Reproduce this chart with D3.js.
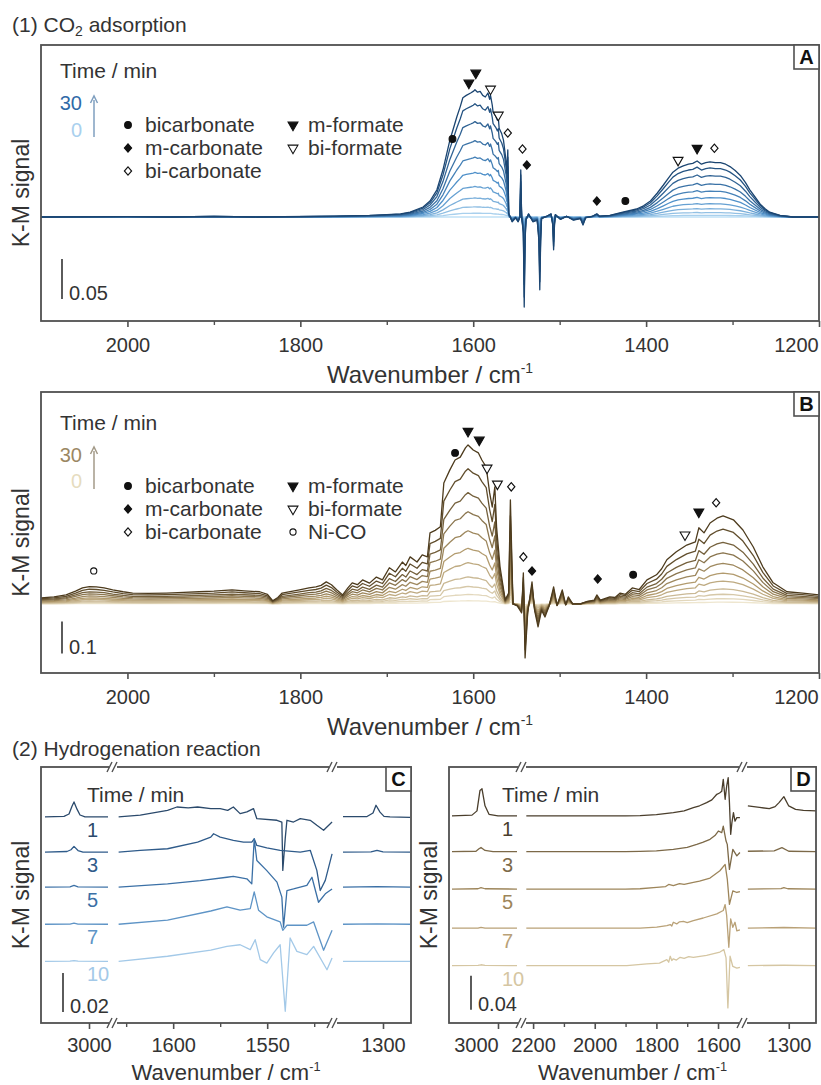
<!DOCTYPE html>
<html>
<head>
<meta charset="utf-8">
<script src="https://cdn.jsdelivr.net/npm/d3@7"></script>
<style>
  body { margin: 0; background: #fff; }
  svg { display: block; }
  text { font-family: "Liberation Sans", Arial, Helvetica, sans-serif; fill: #333; }
</style>
</head>
<body>
<svg id="fig" width="821" height="1085"></svg>
<script>
// ======================= data =======================
// (1) CO2 adsorption, spectra recorded every 3 min
const adsorptionTimes = [0, 3, 6, 9, 12, 15, 18, 21, 24, 27, 30];
const ticksAB = [2000, 1800, 1600, 1400, 1200];
const minorTicksAB = [1900, 1700, 1500, 1300];

// Panel A: spectrum after 30 min, [wavenumber / cm-1, K-M signal]
const spectrumA30 = [
  [2100, 0], [2000, 0.0005], [1950, 0], [1900, 0.0008], [1850, 0], [1760, 0.001], [1720, 0.002],
  [1700, 0.003], [1684, 0.004], [1673, 0.006], [1658, 0.0125], [1650, 0.02], [1642, 0.034],
  [1635, 0.059], [1627, 0.096], [1622, 0.114], [1619, 0.125], [1615, 0.138], [1612, 0.149],
  [1608, 0.152], [1603, 0.155], [1600, 0.157], [1598, 0.159], [1595, 0.156], [1592, 0.157],
  [1589, 0.152], [1586, 0.15], [1583, 0.155], [1581, 0.147], [1580, 0.152], [1578, 0.14],
  [1577, 0.131], [1574, 0.126], [1572, 0.121], [1571, 0.124], [1570, 0.111], [1567, 0.104],
  [1565, 0.096], [1562, 0.07], [1561, 0.055], [1560, 0.084], [1559, 0.005], [1555, -0.006],
  [1551, -0.001], [1548, -0.006], [1546, 0.0], [1545, 0.059], [1544, 0.0], [1542, -0.02],
  [1541, -0.1125], [1540, -0.03], [1539, -0.004], [1536, 0.004], [1531, -0.006], [1526, -0.004],
  [1524, -0.03], [1523, -0.091], [1522, -0.03], [1521, -0.002], [1515, 0.001], [1510, 0.004],
  [1508, -0.01], [1507, -0.041], [1506, -0.01], [1505, 0.003], [1499, -0.003], [1492, 0.001],
  [1484, -0.004], [1476, -0.002], [1473, -0.01], [1470, -0.001], [1462, 0.001], [1457, 0.004],
  [1454, 0.001], [1442, 0.002], [1427, 0.006], [1411, 0.01], [1403, 0.014], [1395, 0.02],
  [1387, 0.03], [1380, 0.04], [1374, 0.049], [1369, 0.056], [1363, 0.061], [1357, 0.064],
  [1351, 0.066], [1346, 0.067], [1341, 0.07], [1336, 0.066], [1331, 0.068], [1326, 0.069],
  [1320, 0.068], [1314, 0.068], [1308, 0.066], [1303, 0.063], [1297, 0.058], [1291, 0.052],
  [1285, 0.043], [1280, 0.034], [1274, 0.025], [1268, 0.016], [1262, 0.01], [1257, 0.006],
  [1245, 0.002], [1230, 0.0], [1200, 0]
];
// fraction of the 30-min intensity reached at each time
const growthA = [0, 0.03, 0.08, 0.15, 0.24, 0.35, 0.47, 0.60, 0.75, 0.89, 1.0];

// Panel B: spectrum after 30 min
const spectrumB30 = [
  [2100, 0.019], [2085, 0.022], [2071, 0.028], [2060, 0.04], [2052, 0.05], [2044, 0.054],
  [2036, 0.053], [2027, 0.05], [2017, 0.044], [2005, 0.038], [1994, 0.034], [1975, 0.033],
  [1955, 0.034], [1935, 0.036], [1917, 0.038], [1900, 0.04], [1879, 0.044], [1865, 0.041],
  [1847, 0.038], [1838, 0.03], [1832, 0.01], [1826, 0.02], [1821, 0.034], [1801, 0.044],
  [1790, 0.05], [1782, 0.053], [1776, 0.058], [1770, 0.069], [1764, 0.06], [1758, 0.044],
  [1751, 0.028], [1745, 0.05], [1740, 0.066], [1734, 0.06], [1728, 0.075], [1720, 0.065],
  [1712, 0.084], [1705, 0.075], [1697, 0.113], [1690, 0.1], [1682, 0.131], [1678, 0.12],
  [1673, 0.147], [1665, 0.131], [1659, 0.153], [1653, 0.147], [1650, 0.222], [1644, 0.23],
  [1638, 0.241], [1634, 0.378], [1627, 0.419], [1621, 0.45], [1615, 0.459], [1609, 0.488],
  [1606, 0.497], [1600, 0.481], [1594, 0.472], [1590, 0.45], [1585, 0.428], [1581, 0.347],
  [1578, 0.303], [1575, 0.366], [1573, 0.241], [1569, 0.116], [1563, 0.013], [1559, 0.034],
  [1557, 0.325], [1554, 0], [1549, -0.006], [1544, -0.028], [1542, 0.097], [1540, -0.169],
  [1537, -0.028], [1532, 0.069], [1529, -0.02], [1525, -0.072], [1521, -0.02], [1517, -0.041],
  [1512, -0.005], [1507, 0.053], [1503, -0.005], [1497, 0.044], [1493, -0.003], [1490, 0.022],
  [1485, 0.0], [1476, 0], [1468, 0.008], [1460, 0.012], [1457, 0.028], [1453, 0.012],
  [1442, 0.022], [1436, 0.02], [1430, 0.034], [1424, 0.03], [1416, 0.05], [1408, 0.045],
  [1399, 0.075], [1388, 0.091], [1382, 0.11], [1376, 0.138], [1365, 0.163], [1353, 0.184],
  [1343, 0.194], [1339, 0.238], [1333, 0.222], [1326, 0.253], [1318, 0.268], [1311, 0.275],
  [1299, 0.263], [1288, 0.231], [1276, 0.178], [1265, 0.116], [1253, 0.066], [1237, 0.038],
  [1219, 0.034], [1200, 0.028]
];
const growthB = [0.02, 0.06, 0.11, 0.17, 0.26, 0.35, 0.46, 0.58, 0.70, 0.85, 1.0];

// band assignments: [species, wavenumber, K-M level of the marker]
const bandsA = [
  ["bicarbonate", 1624, 0.0975], ["m-formate", 1605, 0.1675], ["m-formate", 1597, 0.18],
  ["bi-formate", 1580, 0.16], ["bi-formate", 1571, 0.1275], ["bi-carbonate", 1560, 0.105],
  ["bi-carbonate", 1543, 0.085], ["m-carbonate", 1538, 0.065], ["m-carbonate", 1457, 0.02],
  ["bicarbonate", 1424, 0.02], ["bi-formate", 1363, 0.071], ["m-formate", 1341, 0.086],
  ["bi-carbonate", 1321, 0.086]
];
const bandsB = [
  ["Ni-CO", 2039, 0.103], ["bicarbonate", 1621, 0.472], ["m-formate", 1606, 0.54],
  ["m-formate", 1593, 0.5125], ["bi-formate", 1584, 0.425], ["bi-formate", 1572, 0.375],
  ["bi-carbonate", 1556, 0.366], ["bi-carbonate", 1542, 0.147], ["m-carbonate", 1532, 0.103],
  ["m-carbonate", 1456, 0.078], ["bicarbonate", 1415, 0.091], ["bi-formate", 1355, 0.216],
  ["m-formate", 1339, 0.2875], ["bi-carbonate", 1319, 0.316]
];
const legendLeftCol = ["bicarbonate", "m-carbonate", "bi-carbonate"];
const legendRightA = ["m-formate", "bi-formate"];
const legendRightB = ["m-formate", "bi-formate", "Ni-CO"];

// (2) Hydrogenation reaction
const hydroTimes = [1, 3, 5, 7, 10];
const offsetsC = [0, -0.018, -0.036, -0.055, -0.074];
const offsetsD = [0, -0.042, -0.086, -0.132, -0.176];
const ticksC = { high: [3000], mid: [1600, 1550], low: [1300] };
const minorTicksC = [1625, 1575, 1525];
const ticksD = { high: [3000], mid: [2200, 2000, 1800, 1600], low: [1300] };
const minorTicksD = [2100, 1900, 1700];

// Panel C, one array per time, for each wavenumber window
const chBandC = [
  [[3044, 0], [3025, 0.0003], [3020, 0.0015], [3017, 0.0055], [3015, 0.0077], [3012, 0.004], [3009, 0.001], [3004, 0], [2981, 0]],
  [[3044, 0], [3022, 0.0003], [3018, 0.0012], [3015, 0.0029], [3011, 0.0008], [3006, 0], [2981, 0]],
  [[3044, 0], [3019, 0.0002], [3015, 0.0009], [3011, 0.0002], [2981, 0]],
  [[3044, 0], [3019, 0.0001], [3015, 0.0006], [3011, 0.0001], [2981, 0]],
  [[3044, 0], [3019, 0.0001], [3015, 0.0004], [3011, 0.0001], [2981, 0]]
];
const carbonylC = [
  [[1629, 0], [1617.5, 0.0009], [1603, 0.0034], [1598, 0.0051], [1592, 0.0047], [1587, 0.0051],
   [1580, 0.0043], [1575, 0.0043], [1571, 0.0034], [1568, 0.0051], [1564.4, 0.0017], [1560.8, 0.0026],
   [1557.3, 0.0043], [1555.5, -0.0009], [1544.8, -0.0017], [1542.2, -0.0026], [1541.7, -0.0274],
   [1540.4, -0.011], [1539.5, -0.0017], [1536, -0.0026], [1532.4, -0.0009], [1527.1, -0.0017],
   [1523.6, -0.0043], [1520, -0.0068], [1515.5, -0.0026]],
  [[1629, 0], [1617.5, 0.0009], [1603, 0.0017], [1587, 0.0051], [1580, 0.0077], [1578.5, 0.0094],
   [1575, 0.0077], [1568, 0.006], [1562.6, 0.0051], [1558.2, 0.0051], [1556.9, 0.0068], [1555.5, 0.0034],
   [1550.2, 0.0022], [1543.1, 0.0009], [1532.4, 0], [1527.1, 0.0009], [1523.6, -0.0094],
   [1521.8, -0.0197], [1519.1, -0.0145], [1515.5, -0.0009]],
  [[1629, 0], [1603, 0.0017], [1585.6, 0.0034], [1571.4, 0.0051], [1568, 0.0055], [1560.8, 0.0043],
   [1558.2, 0.0017], [1556.9, 0.0248], [1555.5, 0.0137], [1550.2, 0.0085], [1544.8, 0.0026],
   [1542.2, -0.0051], [1541.3, -0.0205], [1539.5, -0.0017], [1536, -0.0009], [1528.9, 0.0009],
   [1526.2, 0.0051], [1522.7, -0.0077], [1519.1, -0.0034], [1515.5, -0.0009]],
  [[1629, 0], [1603, 0.0021], [1580, 0.0068], [1571.4, 0.0089], [1564.4, 0.0072], [1559, 0.008],
   [1556.9, 0.0166], [1554.6, 0.0072], [1550.2, 0.0038], [1543.1, 0.0012], [1541.7, -0.0031],
   [1539.5, -0.0005], [1528.9, -0.0005], [1525.3, 0.0012], [1520, -0.0133], [1515.5, -0.0031]],
  [[1629, 0], [1603, 0.0026], [1580, 0.0058], [1571.4, 0.0077], [1564.4, 0.0085], [1559, 0.006],
   [1556.4, 0.0111], [1553.7, 0.0009], [1550.2, -0.0009], [1546.6, 0.0043], [1543.1, 0.0085],
   [1540.4, -0.0256], [1537.8, 0.012], [1534.2, 0.0051], [1528.9, 0.0034], [1525.3, 0.0077],
   [1518.2, -0.0043], [1515.5, 0.0017]]
];
const lowBandC = [
  [[1340, 0.0002], [1316, 0.0002], [1310, 0.002], [1307, 0.006], [1303, 0.0025], [1299, 0.0003], [1293, 0], [1273, -0.0002]],
  [[1340, 0], [1312, 0.0001], [1306, 0.0009], [1300, 0.0001], [1273, 0]],
  [[1340, 0], [1306, 0.0003], [1273, 0]],
  [[1340, 0], [1306, 0.0002], [1273, 0]],
  [[1340, 0], [1273, 0]]
];

// Panel D
const chBandD = [
  [[3046, 0], [3026, 0.001], [3021, 0.006], [3018, 0.03], [3016, 0.032], [3013, 0.012], [3009, 0.002], [3000, 0], [2981, 0]],
  [[3046, 0], [3022, 0.0005], [3019, 0.0035], [3017, 0.005], [3013, 0.0015], [3005, 0], [2981, 0]],
  [[3046, 0], [3020, 0.0004], [3017, 0.0018], [3013, 0.0004], [2981, 0]],
  [[3046, 0], [3020, 0.0002], [3017, 0.001], [3013, 0.0002], [2981, 0]],
  [[3046, 0], [3020, 0.0002], [3017, 0.001], [3013, 0.0002], [2981, 0]]
];
const carbonylD = [
  [[2222, 0], [1900, 0], [1853, 0.0005], [1800, 0.0015], [1745, 0.004], [1710, 0.006], [1680, 0.0098],
   [1660, 0.012], [1637, 0.0157], [1620, 0.019], [1604, 0.0255], [1595, 0.027], [1588, 0.029],
   [1583, 0.043], [1577, 0.0196], [1572, 0.035], [1567, 0.045], [1563, 0.0157], [1559, -0.0216],
   [1555, -0.008], [1550, 0.004], [1545, -0.006], [1539, -0.002], [1529, -0.002]],
  [[2222, 0], [1900, 0], [1853, 0.0003], [1800, 0.001], [1745, 0.0027], [1700, 0.005], [1669, 0.0086],
   [1650, 0.011], [1626, 0.0145], [1610, 0.019], [1599, 0.0243], [1588, 0.0224], [1583, 0.03],
   [1574, 0.0125], [1570, 0.0086], [1563, -0.0208], [1552, 0.0027], [1539, -0.005], [1529, -0.001]],
  [[2222, 0], [1900, 0], [1853, 0.0004], [1799, 0.002], [1770, 0.003], [1760, 0.0055], [1745, 0.004],
   [1725, 0.0065], [1710, 0.0055], [1680, 0.0078], [1660, 0.0095], [1626, 0.013], [1594, 0.0216],
   [1577, 0.029], [1570, 0.0118], [1563, -0.018], [1552, -0.002], [1539, -0.004], [1529, -0.003]],
  [[2222, 0], [1900, 0], [1853, 0], [1799, 0.0012], [1766, 0.003], [1755, 0.0043], [1750, 0.0025],
   [1745, 0.007], [1734, 0.005], [1725, 0.0075], [1712, 0.008], [1700, 0.0065], [1680, 0.009],
   [1648, 0.012], [1604, 0.0169], [1583, 0.0208], [1577, 0.0278], [1572, 0.015], [1565, -0.0224],
   [1559, 0.011], [1552, 0.001], [1545, 0.007], [1539, -0.003], [1529, -0.002]],
  [[2222, 0], [1896, 0], [1831, 0.002], [1790, 0.003], [1766, 0.007], [1760, 0.004], [1755, 0.011],
   [1750, 0.006], [1745, 0.008], [1735, 0.0065], [1723, 0.0098], [1710, 0.0085], [1695, 0.0105],
   [1680, 0.0098], [1637, 0.012], [1594, 0.016], [1581, 0.0188], [1574, 0.009], [1568, -0.0498],
   [1561, 0.011], [1552, -0.001], [1539, -0.003], [1529, -0.002]]
];
const lowBandD = [
  [[1342, 0.0118], [1330, 0.01], [1320, 0.0086], [1314, 0.011], [1310, 0.0157], [1305, 0.0227], [1300, 0.0118], [1293, 0.0078], [1285, 0.0065], [1272, 0.006]],
  [[1342, 0.0005], [1315, 0.001], [1307, 0.0047], [1300, 0.0005], [1272, 0]],
  [[1342, 0], [1308, 0.0005], [1305, 0.0018], [1301, 0.0004], [1272, 0]],
  [[1342, 0], [1305, 0.0008], [1272, 0]],
  [[1342, 0], [1305, 0.0004], [1272, 0]]
];

// ======================= drawing =======================
const svg = d3.select("#fig");
const defs = svg.append("defs");
const FRAME = "#505050";

function clip(id, x0, y0, x1, y1) {
  defs.append("clipPath").attr("id", id)
    .append("rect").attr("x", x0).attr("y", y0).attr("width", x1 - x0).attr("height", y1 - y0);
  return "url(#" + id + ")";
}

function frame(x0, y0, x1, y1) {
  svg.append("rect").attr("x", x0).attr("y", y0).attr("width", x1 - x0).attr("height", y1 - y0)
    .attr("fill", "none").attr("stroke", FRAME).attr("stroke-width", 1.8);
}

function panelTag(letter, x1, y0) {
  const g = svg.append("g");
  g.append("rect").attr("x", x1 - 25).attr("y", y0).attr("width", 25).attr("height", 24)
    .attr("fill", "#fff").attr("stroke", FRAME).attr("stroke-width", 1.6);
  g.append("text").attr("x", x1 - 12.5).attr("y", y0 + 19).attr("text-anchor", "middle")
    .attr("font-size", 20).attr("font-weight", "bold").style("fill", "#111").text(letter);
}

function axisTitleX(cx, y, size) {
  const t = svg.append("text").attr("x", cx).attr("y", y).attr("text-anchor", "middle").attr("font-size", size);
  t.append("tspan").text("Wavenumber / cm");
  t.append("tspan").attr("font-size", size * 0.58).attr("dy", -size * 0.42).text("-1");
}

function axisTitleY(x, cy) {
  svg.append("text").attr("transform", `translate(${x},${cy}) rotate(-90)`)
    .attr("text-anchor", "middle").attr("font-size", 23).text("K-M signal");
}

function bottomTicks(scale, y, major, minor, labelShift, pad) {
  const g = svg.append("g").attr("transform", `translate(0,${y})`);
  g.call(d3.axisBottom(scale).tickValues(major).tickSize(6).tickPadding(pad).tickFormat(d3.format("d")));
  g.select(".domain").remove();
  g.selectAll(".tick line").attr("stroke", FRAME).attr("stroke-width", 1.6);
  g.selectAll(".tick text").attr("font-size", 20).style("fill", "#333")
    .attr("font-family", '"Liberation Sans", Arial, sans-serif');
  if (labelShift) g.selectAll(".tick text").attr("dx", d => labelShift[d] || 0);
  if (minor && minor.length) {
    const m = svg.append("g").attr("transform", `translate(0,${y})`);
    m.call(d3.axisBottom(scale).tickValues(minor).tickSize(4).tickFormat(""));
    m.select(".domain").remove();
    m.selectAll(".tick line").attr("stroke", FRAME).attr("stroke-width", 1.4);
  }
}

function scaleBar(x, yScale, v0, len, label) {
  svg.append("line").attr("x1", x).attr("x2", x).attr("y1", yScale(v0)).attr("y2", yScale(v0 + len))
    .attr("stroke", "#333").attr("stroke-width", 1.6);
  svg.append("text").attr("x", x + 7).attr("y", yScale(v0) + 1).attr("font-size", 20).text(label);
}

function speciesSymbol(kind) {
  const filled = ["bicarbonate", "m-carbonate", "m-formate"].includes(kind);
  let type = d3.symbolCircle, size = 36, rot = 0, sy = 1;
  if (kind === "m-carbonate" || kind === "bi-carbonate") { type = d3.symbolSquare; size = 26; rot = 45; sy = 1.15; }
  if (kind.endsWith("formate")) { type = d3.symbolTriangle; size = 42; rot = 180; }
  if (kind === "Ni-CO") { size = 30; }
  return { path: d3.symbol().type(type).size(size)(), filled, rot, sy };
}

function drawSymbol(g, kind, x, y) {
  const s = speciesSymbol(kind);
  g.append("path").attr("d", s.path)
    .attr("transform", `translate(${x},${y}) scale(1,${s.sy}) rotate(${s.rot})`)
    .attr("fill", s.filled ? "#111" : "#fff").attr("stroke", "#111").attr("stroke-width", 1.1);
}

function timeArrow(x, yTop, yBottom, hiColor, loColor, hiY, loY, color, titleY) {
  svg.append("text").attr("x", 60).attr("y", titleY).attr("font-size", 21).text("Time / min");
  svg.append("text").attr("x", 82).attr("y", hiY).attr("text-anchor", "end").attr("font-size", 20)
    .style("fill", hiColor).text(adsorptionTimes[adsorptionTimes.length - 1]);
  svg.append("text").attr("x", 82).attr("y", loY).attr("text-anchor", "end").attr("font-size", 20)
    .style("fill", loColor).text(adsorptionTimes[0]);
  svg.append("line").attr("x1", x).attr("x2", x).attr("y1", yBottom).attr("y2", yTop + 3)
    .attr("stroke", color).attr("stroke-width", 1.5);
  svg.append("path").attr("d", `M${x - 3.5},${yTop + 6}L${x},${yTop - 1}L${x + 3.5},${yTop + 6}`)
    .attr("fill", "none").attr("stroke", color).attr("stroke-width", 1.5);
}

function legend(rowY, rightItems) {
  const g = svg.append("g");
  legendLeftCol.forEach((k, i) => {
    drawSymbol(g, k, 128, rowY + i * 23);
    g.append("text").attr("x", 145).attr("y", rowY + i * 23 + 7).attr("font-size", 21).text(k);
  });
  rightItems.forEach((k, i) => {
    drawSymbol(g, k, 293, rowY + i * 23);
    g.append("text").attr("x", 308).attr("y", rowY + i * 23 + 7).attr("font-size", 21).text(k);
  });
}

// ---------- panels A and B ----------
function adsorptionPanel(cfg) {
  const x = d3.scaleLinear().domain([2100, 1200]).range([41, 819]);
  const y = d3.scaleLinear().domain(cfg.yDomain).range([cfg.y1, cfg.y0]);
  const color = d3.scaleLinear().domain([0, 15, 30]).range(cfg.colors);
  const plot = svg.append("g").attr("clip-path", clip("clip" + cfg.tag, 41, cfg.y0, 819, cfg.y1));

  adsorptionTimes.forEach((t, i) => {
    const f = cfg.growth[i];
    const line = d3.line().x(d => x(d[0])).y(d => y(d[1] * f));
    plot.append("path").datum(cfg.spectrum).attr("d", line)
      .attr("fill", "none").attr("stroke", color(t)).attr("stroke-width", 1.3).attr("stroke-linejoin", "round");
  });

  const marks = svg.append("g");
  cfg.bands.forEach(b => drawSymbol(marks, b[0], x(b[1]), y(b[2])));

  frame(41, cfg.y0, 819, cfg.y1);
  bottomTicks(x, cfg.y1, ticksAB, minorTicksAB, { 1200: -23 }, 11);
  panelTag(cfg.tag, 819, cfg.y0);
  axisTitleX(430, cfg.y1 + 62, 24);
  axisTitleY(29, (cfg.y0 + cfg.y1) / 2 + 10);
  scaleBar(62, y, cfg.bar[0], cfg.bar[1], cfg.bar[2]);
  return { x, y };
}

svg.append("text").attr("x", 12).attr("y", 32).attr("font-size", 21)
  .call(t => {
    t.append("tspan").text("(1) CO");
    t.append("tspan").attr("font-size", 14).attr("dy", 4).text("2");
    t.append("tspan").attr("dy", -4).text(" adsorption");
  });

adsorptionPanel({
  tag: "A", y0: 45, y1: 321, yDomain: [-0.13, 0.215],
  spectrum: spectrumA30, growth: growthA, bands: bandsA,
  colors: ["#bfe0f6", "#4f90c9", "#1b4571"], bar: [-0.1025, 0.05, "0.05"]
});
timeArrow(94, 97, 137, "#2f6aa8", "#a9d0ee", 110, 137, "#7f9fbf", 78);
legend(125, legendRightA);

adsorptionPanel({
  tag: "B", y0: 392, y1: 673, yDomain: [-0.216, 0.6625],
  spectrum: spectrumB30, growth: growthB, bands: bandsB,
  colors: ["#eee6cf", "#b29b6e", "#4d3b1d"], bar: [-0.155, 0.1, "0.1"]
});
timeArrow(94, 448, 489, "#9b8763", "#e6dcbf", 462, 488, "#a39a88", 430);
legend(486, legendRightB);

// ---------- panels C and D ----------
svg.append("text").attr("x", 12).attr("y", 756).attr("font-size", 21).text("(2) Hydrogenation reaction");

function breakMark(xp, yp) {
  svg.append("rect").attr("x", xp - 4).attr("y", yp - 2).attr("width", 8).attr("height", 4).attr("fill", "#fff");
  [-3, 2].forEach(dx => {
    svg.append("line").attr("x1", xp + dx - 3).attr("y1", yp + 5).attr("x2", xp + dx + 2).attr("y2", yp - 5)
      .attr("stroke", FRAME).attr("stroke-width", 1.4);
  });
}

function hydroPanel(cfg) {
  const [L, B1, B2, R] = cfg.xs;
  const xHigh = d3.scaleLinear().domain(cfg.domHigh).range([L, B1]);
  const xMid = d3.scaleLinear().domain(cfg.domMid).range([B1, B2]);
  const xLow = d3.scaleLinear().domain(cfg.domLow).range([B2, R]);
  const y = d3.scaleLinear().domain(cfg.yDomain).range([1023, 767]);
  const plot = svg.append("g").attr("clip-path", clip("clip" + cfg.tag, L, 767, R, 1023));

  hydroTimes.forEach((t, i) => {
    const off = cfg.offsets[i];
    [[xHigh, cfg.high[i]], [xMid, cfg.mid[i]], [xLow, cfg.low[i]]].forEach(([xs, pts]) => {
      const line = d3.line().x(d => xs(d[0])).y(d => y(d[1] + off));
      plot.append("path").datum(pts).attr("d", line).attr("fill", "none")
        .attr("stroke", cfg.colors[i]).attr("stroke-width", 1.3).attr("stroke-linejoin", "round");
    });
    svg.append("text").attr("x", cfg.labelX).attr("y", y(off) + cfg.labelDy).attr("font-size", 20)
      .style("fill", cfg.colors[i]).text(t);
  });
  svg.append("text").attr("x", cfg.labelX).attr("y", 802).attr("font-size", 21).text("Time / min");

  frame(L, 767, R, 1023);
  bottomTicks(xHigh, 1023, cfg.ticks.high, [], cfg.shift, 9);
  bottomTicks(xMid, 1023, cfg.ticks.mid, cfg.minor, cfg.shift, 9);
  bottomTicks(xLow, 1023, cfg.ticks.low, [], cfg.shift, 9);
  [B1, B2].forEach(b => { breakMark(b, 767); breakMark(b, 1023); });
  panelTag(cfg.tag, R, 767);
  axisTitleX((L + R) / 2, 1080, 22);
  axisTitleY(cfg.yTitleX, 895);
  scaleBar(cfg.barX, y, cfg.bar[0], cfg.bar[1], cfg.bar[2]);
}

hydroPanel({
  tag: "C", xs: [41, 113, 333, 411],
  domHigh: [3048, 2976], domMid: [1632, 1515], domLow: [1350, 1272],
  yDomain: [-0.1056, 0.0256], offsets: offsetsC,
  high: chBandC, mid: carbonylC, low: lowBandC,
  colors: ["#2b4a6c", "#2f5b8a", "#3b70a6", "#5e94c6", "#a3c9e8"],
  labelX: 87, labelDy: 20, ticks: ticksC, minor: minorTicksC, shift: null,
  yTitleX: 29, barX: 63, bar: [-0.1, 0.02, "0.02"]
});

hydroPanel({
  tag: "D", xs: [449, 522, 743, 816],
  domHigh: [3049, 2976], domMid: [2236, 1519], domLow: [1347, 1272],
  yDomain: [-0.2435, 0.0576], offsets: offsetsD,
  high: chBandD, mid: carbonylD, low: lowBandD,
  colors: ["#4a3e2c", "#7c6948", "#9d855a", "#b9a177", "#d5c6a2"],
  labelX: 502, labelDy: 20, ticks: ticksD, minor: minorTicksD, shift: { 3000: -22 },
  yTitleX: 437, barX: 471, bar: [-0.228, 0.04, "0.04"]
});
</script>
</body>
</html>
